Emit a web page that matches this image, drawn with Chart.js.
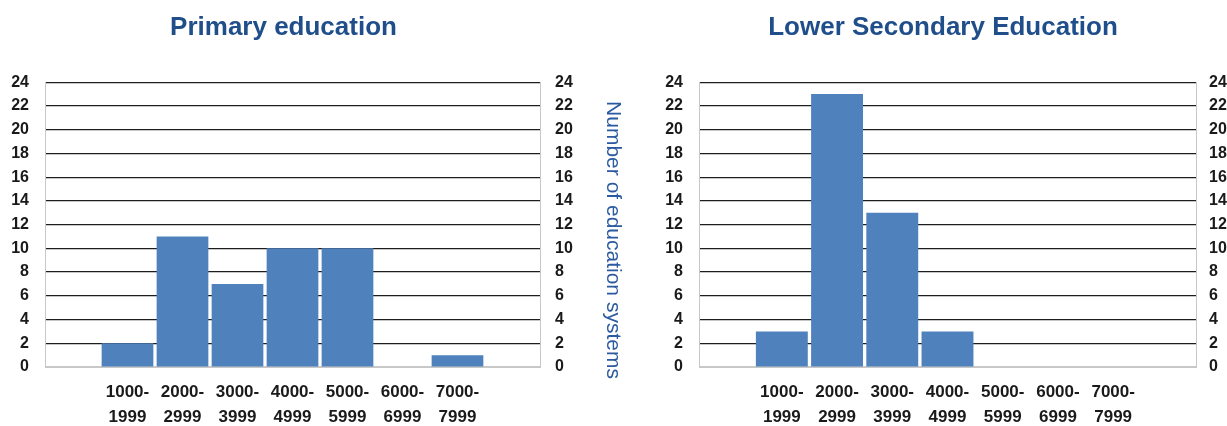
<!DOCTYPE html>
<html>
<head>
<meta charset="utf-8">
<title>Education systems by salary band</title>
<script src="https://cdn.jsdelivr.net/npm/chart.js@4/dist/chart.umd.min.js"></script>
<style>
  html, body { margin: 0; padding: 0; background: #fff; }
  #wrap { position: relative; width: 1227px; height: 426px; overflow: hidden; }
  .box { position: absolute; top: 0; height: 426px; }
  /* the left canvas starts off-screen so that its title centres where the original one does */
  #boxLeft { left: -73px; width: 713px; }
  #boxRight { left: 640px; width: 587px; }
</style>
</head>
<body>
<div id="wrap">
  <div class="box" id="boxLeft"><canvas id="primaryChart"></canvas></div>
  <div class="box" id="boxRight"><canvas id="lowerChart"></canvas></div>
</div>
<script>
// categories (empty slot at each end, as in the original)
const bands = ["", "1000-1999", "2000-2999", "3000-3999", "4000-4999", "5000-5999", "6000-6999", "7000-7999", ""];
// tick labels, split on two lines
const bandLabels = bands.map(b => b ? [b.split("-")[0] + "-", b.split("-")[1]] : "");

// number of education systems per band
const primaryValues = [null, 2, 11, 7, 10, 10, 0, 1, null];
const lowerSecValues = [null, 3, 23, 13, 3, 0, 0, 0, null];

const yMin = 0;
const yMax = 24;
const yStep = 2;

const TITLE_BLUE = "#1f4e8a";
const AXIS_BLUE = "#2b5aa0";
const BAR_BLUE = "#4f81bd";
const SANS = "'Liberation Sans', Arial, sans-serif";

// titre vertical de l'axe de droite
const sideTitle = {
    id: "sideTitle",
    afterDraw(chart, args, opts) {
        if (!opts || !opts.text) return;
        const ctx = chart.ctx;
        ctx.save();
        ctx.translate(opts.x, opts.y);
        ctx.rotate(Math.PI / 2);
        ctx.font = opts.font;
        ctx.fillStyle = opts.color;
        ctx.textAlign = "center";
        ctx.textBaseline = "middle";
        ctx.fillText(opts.text, 0, 0);
        ctx.restore();
    }
};

function buildChart(canvasId, title, values, layout) {
    const ctx = document.getElementById(canvasId);
    return new Chart(ctx, {
        type: "bar",
        data: {
            labels: bandLabels,
            datasets: [{
                label: title,
                data: values,
                backgroundColor: BAR_BLUE,
                borderWidth: 0,
                barPercentage: 0.94,
                categoryPercentage: 1.0
            }]
        },
        plugins: [sideTitle],
        options: {
            responsive: true,
            maintainAspectRatio: false,
            animation: false,
            layout: { padding: layout.padding },
            plugins: {
                legend: { display: false },
                tooltip: { enabled: false },
                title: {
                    display: true,
                    text: title,
                    color: TITLE_BLUE,
                    font: { family: SANS, size: 26, weight: "bold", lineHeight: 1.2 },
                    padding: { top: 12, bottom: 39 }
                },
                sideTitle: layout.sideTitle || {}
            },
            scales: {
                x: {
                    grid: { display: false, drawTicks: false },
                    border: { display: true, color: "#c8c8c8" },
                    ticks: {
                        color: "#1a1a1a",
                        padding: 13,
                        maxRotation: 0,
                        autoSkip: false,
                        font: { family: SANS, size: 17, weight: "bold", lineHeight: "25px" }
                    },
                    afterFit: s => { s.height = 59; }
                },
                y: {
                    position: "left",
                    min: yMin,
                    max: yMax,
                    grid: {
                        drawTicks: false,
                        color: c => c.tick && c.tick.value === 0 ? "#c8c8c8" : "#1e1e1e",
                        lineWidth: 1.2
                    },
                    border: { display: true, color: "#c8c8c8" },
                    ticks: {
                        stepSize: yStep,
                        color: "#1a1a1a",
                        padding: 16,
                        font: { family: SANS, size: 16, weight: "bold" }
                    },
                    afterFit: s => { s.width = layout.leftAxis; }
                },
                y2: {
                    position: "right",
                    min: yMin,
                    max: yMax,
                    grid: { display: false, drawTicks: false },
                    border: { display: true, color: "#c8c8c8" },
                    ticks: {
                        stepSize: yStep,
                        color: "#1a1a1a",
                        padding: layout.rightPad,
                        font: { family: SANS, size: 16, weight: "bold" }
                    },
                    afterFit: s => { s.width = layout.rightAxis; }
                }
            }
        }
    });
}

buildChart("primaryChart", "Primary education", primaryValues, {
    padding: { left: 0, right: 0, top: 0, bottom: 0 },
    leftAxis: 118,
    rightAxis: 100,
    rightPad: 15,
    sideTitle: {
        text: "Number of education systems",
        x: 686,
        y: 240,
        font: "21px " + SANS,
        color: AXIS_BLUE
    }
});

buildChart("lowerChart", "Lower Secondary Education", lowerSecValues, {
    padding: { left: 19, right: 0, top: 0, bottom: 0 },
    leftAxis: 40,
    rightAxis: 31,
    rightPad: 13
});
</script>
</body>
</html>
